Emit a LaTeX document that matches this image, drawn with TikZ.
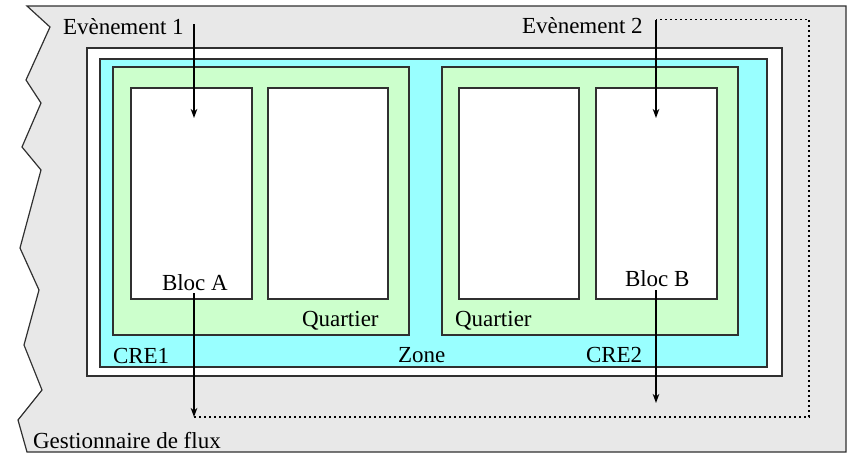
\documentclass[tikz,border=0pt]{standalone}
\usepackage{fontspec}
\setmainfont{Liberation Serif}
\usetikzlibrary{arrows.meta}
\definecolor{bggray}{HTML}{E8E8E8}
\definecolor{zonecyan}{HTML}{99FFFF}
\definecolor{quartgreen}{HTML}{CCFFCC}
\definecolor{edge}{HTML}{303030}
\begin{document}
\begin{tikzpicture}[x=1pt,y=-1pt, line width=1.2pt,
  box/.style={draw=edge, line width=1.2pt, inner sep=0pt, outer sep=0pt, rectangle},
  lbl/.style={inner sep=0pt, outer sep=0pt, font=\fontsize{23}{27}\selectfont, anchor=base west},
  arr/.style={draw=black, line width=1.2pt, -{Stealth[length=9pt,width=6.5pt,inset=2.5pt]}},
  dotline/.style={draw=black, line width=1.8pt, dash pattern=on 1.8pt off 3.2pt}]

\useasboundingbox (0,0) rectangle (851,455);

% outer zone (Gestionnaire de flux)
\filldraw[fill=bggray, draw=edge, line width=1.2pt]
  (27,6) -- (846,6) -- (846,452) -- (27,452) -- (18,420) -- (42,390)
  -- (24,345) -- (39,290) -- (20,248) -- (41,170) -- (22,147) -- (41,103)
  -- (26,80) -- (50,27) -- cycle;

% boxes
\node[box, fill=white, minimum width=695pt, minimum height=328pt] (frame) at (434.5,212) {};
\node[box, fill=zonecyan, minimum width=667pt, minimum height=308pt] (zone) at (433.5,213) {};
\node[box, fill=quartgreen, minimum width=296pt, minimum height=268pt] (q1) at (261,201) {};
\node[box, fill=quartgreen, minimum width=296pt, minimum height=268pt] (q2) at (590,201) {};
\node[box, fill=white, minimum width=121pt, minimum height=211pt] (blocA) at (191.5,193.5) {};
\node[box, fill=white, minimum width=120pt, minimum height=211pt] (b2) at (328,193.5) {};
\node[box, fill=white, minimum width=120pt, minimum height=211pt] (b3) at (519,193.5) {};
\node[box, fill=white, minimum width=121pt, minimum height=211pt] (blocB) at (656.5,193.5) {};

% labels
\node[lbl] (ev1) at (63,34) {Evènement 1};
\node[lbl] (ev2) at (522,33) {Evènement 2};
\node[lbl] (la) at (162,290) {Bloc A};
\node[lbl] (lb) at (625,286) {Bloc B};
\node[lbl] (lq1) at (302,326) {Quartier};
\node[lbl] (lq2) at (455,326) {Quartier};
\node[lbl] (lcre1) at (113,363) {CRE1};
\node[lbl] (lzone) at (398,362) {Zone};
\node[lbl] (lcre2) at (586,362) {CRE2};
\node[lbl] (lgest) at (33,448) {Gestionnaire de flux};

% connector points
\coordinate (e1s) at (194,24);
\coordinate (e1t) at (194,118);
\coordinate (e2s) at (656,20);
\coordinate (e2t) at (656,118);
\coordinate (as) at (194,293);
\coordinate (at) at (194,417);
\coordinate (bs) at (656,290);
\coordinate (bt) at (656,403);
\coordinate (dr) at (809,417);
\coordinate (ur) at (809,19.5);

% dotted return path
\draw[dotline] (at) -- (dr) -- (ur) -- (e2s |- ur);

% arrows
\draw[arr] (e1s) -- (e1t);
\draw[arr] (e2s) -- (e2t);
\draw[arr] (as) -- (at);
\draw[arr] (bs) -- (bt);
\end{tikzpicture}
\end{document}
